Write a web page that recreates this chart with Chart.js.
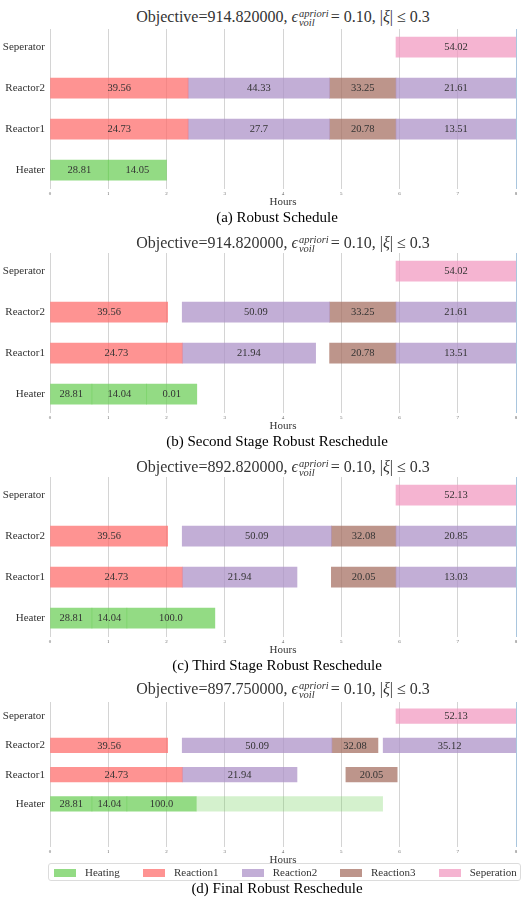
<!DOCTYPE html>
<html>
<head>
<meta charset="utf-8">
<script src="https://cdn.jsdelivr.net/npm/chart.js@4.4.0/dist/chart.umd.min.js"></script>
<style>
html,body{margin:0;padding:0;background:#fff;}
body{width:524px;height:899px;position:relative;overflow:hidden;font-family:"Liberation Serif","DejaVu Serif",serif;}
.ttl{position:absolute;left:50px;width:466px;text-align:center;font-size:16px;color:#333;line-height:20px;height:20px;white-space:nowrap;}
.ss{display:inline-block;vertical-align:middle;font-size:10.5px;line-height:9.5px;font-style:italic;text-align:left;margin-left:1px;margin-right:2px;}
.ss span{display:block;}
.cap{position:absolute;left:0;width:554px;text-align:center;font-size:15px;color:#000;line-height:18px;white-space:nowrap;}
canvas{position:absolute;left:0;}
.legend{position:absolute;left:48px;top:863px;width:473px;height:18px;border:1px solid #dcdcdc;border-radius:3px;background:rgba(255,255,255,0.8);box-sizing:border-box;}
.lg-sw{position:absolute;top:5px;width:22px;height:8px;}
.lg-tx{position:absolute;top:0;line-height:17px;font-size:11px;color:#333;white-space:nowrap;}
</style>
</head>
<body>
<script>
// ---------- data ----------
const units = ['Seperator', 'Reactor2', 'Reactor1', 'Heater'];
const tasks = ['Heating', 'Reaction1', 'Reaction2', 'Reaction3', 'Seperation'];
const objectives = ['914.820000', '914.820000', '892.820000', '897.750000'];
const epsilonApriori = '0.10';
const xiBound = '0.3';
const captions = ['(a) Robust Schedule', '(b) Second Stage Robust Reschedule',
                  '(c) Third Stage Robust Reschedule', '(d) Final Robust Reschedule'];
const hourMin = 0;
const hourMax = 8;
const axisTitle = 'Hours';

// [unit, task, start hour, end hour, label]
const scheduleA = [
  ['Heater', 'Heating', 0, 1.00, '28.81'],
  ['Heater', 'Heating', 1.00, 2.00, '14.05'],
  ['Reactor2', 'Reaction1', 0, 2.37, '39.56'],
  ['Reactor2', 'Reaction2', 2.37, 4.80, '44.33'],
  ['Reactor2', 'Reaction3', 4.80, 5.94, '33.25'],
  ['Reactor2', 'Reaction2', 5.94, 8.00, '21.61'],
  ['Reactor1', 'Reaction1', 0, 2.37, '24.73'],
  ['Reactor1', 'Reaction2', 2.37, 4.80, '27.7'],
  ['Reactor1', 'Reaction3', 4.80, 5.94, '20.78'],
  ['Reactor1', 'Reaction2', 5.94, 8.00, '13.51'],
  ['Seperator', 'Seperation', 5.94, 8.00, '54.02']
];
const scheduleB = [
  ['Heater', 'Heating', 0, 0.72, '28.81'],
  ['Heater', 'Heating', 0.72, 1.66, '14.04'],
  ['Heater', 'Heating', 1.66, 2.52, '0.01'],
  ['Reactor2', 'Reaction1', 0, 2.02, '39.56'],
  ['Reactor2', 'Reaction2', 2.27, 4.80, '50.09'],
  ['Reactor2', 'Reaction3', 4.80, 5.94, '33.25'],
  ['Reactor2', 'Reaction2', 5.94, 8.00, '21.61'],
  ['Reactor1', 'Reaction1', 0, 2.27, '24.73'],
  ['Reactor1', 'Reaction2', 2.27, 4.56, '21.94'],
  ['Reactor1', 'Reaction3', 4.80, 5.94, '20.78'],
  ['Reactor1', 'Reaction2', 5.94, 8.00, '13.51'],
  ['Seperator', 'Seperation', 5.94, 8.00, '54.02']
];
const scheduleC = [
  ['Heater', 'Heating', 0, 0.72, '28.81'],
  ['Heater', 'Heating', 0.72, 1.32, '14.04'],
  ['Heater', 'Heating', 1.32, 2.83, '100.0'],
  ['Reactor2', 'Reaction1', 0, 2.02, '39.56'],
  ['Reactor2', 'Reaction2', 2.27, 4.83, '50.09'],
  ['Reactor2', 'Reaction3', 4.83, 5.94, '32.08'],
  ['Reactor2', 'Reaction2', 5.94, 8.00, '20.85'],
  ['Reactor1', 'Reaction1', 0, 2.27, '24.73'],
  ['Reactor1', 'Reaction2', 2.27, 4.24, '21.94'],
  ['Reactor1', 'Reaction3', 4.83, 5.94, '20.05'],
  ['Reactor1', 'Reaction2', 5.94, 8.00, '13.03'],
  ['Seperator', 'Seperation', 5.94, 8.00, '52.13']
];
const scheduleD = [
  ['Heater', 'Heating', 0, 0.72, '28.81'],
  ['Heater', 'Heating', 0.72, 1.32, '14.04'],
  ['Heater', 'Heating', 1.32, 2.51, '100.0'],
  ['Reactor2', 'Reaction1', 0, 2.02, '39.56'],
  ['Reactor2', 'Reaction2', 2.27, 4.84, '50.09'],
  ['Reactor2', 'Reaction3', 4.84, 5.63, '32.08'],
  ['Reactor2', 'Reaction2', 5.72, 8.00, '35.12'],
  ['Reactor1', 'Reaction1', 0, 2.27, '24.73'],
  ['Reactor1', 'Reaction2', 2.27, 4.24, '21.94'],
  ['Reactor1', 'Reaction3', 5.08, 5.96, '20.05'],
  ['Seperator', 'Seperation', 5.94, 8.00, '52.13']
];
// remaining (not yet executed) heating window in the final reschedule
const finalPending = [
  ['Heater', 'Heating', 2.51, 5.71]
];

// ---------- styles ----------
const taskColors = {
  Heating: 'rgba(111,207,91,0.75)',
  Reaction1: 'rgba(254,111,110,0.75)',
  Reaction2: 'rgba(174,147,200,0.75)',
  Reaction3: 'rgba(167,114,100,0.75)',
  Seperation: 'rgba(242,155,194,0.75)'
};
const pendingColor = 'rgba(111,207,91,0.3)';
const FONT = '"Liberation Serif", "DejaVu Serif", serif';
Chart.defaults.font.family = FONT;
Chart.defaults.animation = false;

const layoutPanels = [
  {sched: scheduleA, pending: [], titleTop: 7, canvasTop: 24, padTop: 5, plotH: 160, capTop: 208, yMin: -0.44, yMax: 3.46, barPx: 20},
  {sched: scheduleB, pending: [], titleTop: 233, canvasTop: 248, padTop: 5, plotH: 160, capTop: 432, yMin: -0.44, yMax: 3.46, barPx: 20},
  {sched: scheduleC, pending: [], titleTop: 457, canvasTop: 472, padTop: 5, plotH: 160, capTop: 656, yMin: -0.44, yMax: 3.46, barPx: 20},
  {sched: scheduleD, pending: finalPending, titleTop: 679, canvasTop: 696, padTop: 6, plotH: 145, capTop: 879, yMin: -0.48, yMax: 4.47, barPx: 14.5}
];

const barText = {
  id: 'barText',
  afterDatasetsDraw(chart) {
    const ctx = chart.ctx;
    ctx.save();
    ctx.font = '10.5px ' + FONT;
    ctx.fillStyle = '#333';
    ctx.textAlign = 'center';
    ctx.textBaseline = 'middle';
    chart.data.datasets.forEach((ds, di) => {
      const meta = chart.getDatasetMeta(di);
      meta.data.forEach((el, i) => {
        const t = ds.data[i].text;
        if (!t) return;
        ctx.fillText(t, (el.x + el.base) / 2, el.y + 0.5);
      });
    });
    ctx.restore();
  }
};

function toPoints(rows) {
  return rows.map(r => ({x: [r[2], r[3]], y: units.indexOf(r[0]), text: r[4] || ''}));
}

layoutPanels.forEach((p, idx) => {
  // title
  const t = document.createElement('div');
  t.className = 'ttl';
  t.style.top = p.titleTop + 'px';
  t.innerHTML = 'Objective=' + objectives[idx] + ', <span style="font-style:italic">ϵ</span>' +
    '<span class="ss"><span>apriori</span><span>voil</span></span>= ' + epsilonApriori +
    ', |<span style="font-style:italic">ξ</span>| ≤ ' + xiBound;
  document.body.appendChild(t);

  // chart
  const xAxisH = 20;
  const padBottom = 1;
  const cv = document.createElement('canvas');
  cv.width = 524;
  cv.height = p.padTop + p.plotH + xAxisH + padBottom;
  cv.style.top = p.canvasTop + 'px';
  document.body.appendChild(cv);

  const datasets = tasks.map(task => ({
    label: task,
    data: toPoints(p.sched.filter(r => r[1] === task)),
    backgroundColor: taskColors[task],
    borderWidth: 0,
    grouped: false,
    barThickness: p.barPx
  }));
  if (p.pending.length) {
    datasets.unshift({
      label: 'Heating (remaining)',
      data: toPoints(p.pending),
      backgroundColor: pendingColor,
      borderWidth: 0,
      grouped: false,
      barThickness: p.barPx
    });
  }

  new Chart(cv, {
    type: 'bar',
    data: {datasets},
    options: {
      responsive: false,
      indexAxis: 'y',
      animation: false,
      layout: {padding: {top: p.padTop, bottom: padBottom, left: 0, right: 8}},
      plugins: {legend: {display: false}, tooltip: {enabled: false}},
      scales: {
        x: {
          type: 'linear', min: hourMin, max: hourMax,
          offset: false,
          border: {display: false},
          grid: {
            offset: false,
            drawTicks: false,
            lineWidth: 1,
            color: c => (c.tick && c.tick.value === hourMax) ? '#a9c6de' : '#d4d4d4'
          },
          ticks: {stepSize: 1, padding: 2, color: '#666', font: {size: 5}},
          title: {display: true, text: axisTitle, color: '#333', font: {size: 11}, padding: {top: 0, bottom: 0}},
          afterFit: s => { s.height = xAxisH; s.paddingLeft = 0; s.paddingRight = 2; }
        },
        y: {
          type: 'linear', reverse: true, min: p.yMin, max: p.yMax,
          offset: false,
          border: {display: false},
          grid: {display: false, drawTicks: false, offset: false},
          afterBuildTicks: s => { s.ticks = units.map((u, i) => ({value: i})); },
          ticks: {callback: v => units[v], padding: 5, color: '#333', font: {size: 11}},
          afterFit: s => { s.width = 50; s.paddingTop = 0; s.paddingBottom = 0; }
        }
      }
    },
    plugins: [barText]
  });

  // caption
  const c = document.createElement('div');
  c.className = 'cap';
  c.style.top = p.capTop + 'px';
  c.textContent = captions[idx];
  document.body.appendChild(c);
});

// legend (final panel)
const legend = document.createElement('div');
legend.className = 'legend';
const legendX = [5, 94, 192.7, 291, 389.7];
tasks.forEach((task, i) => {
  const sw = document.createElement('span');
  sw.className = 'lg-sw';
  sw.style.left = legendX[i] + 'px';
  sw.style.background = taskColors[task];
  legend.appendChild(sw);
  const tx = document.createElement('span');
  tx.className = 'lg-tx';
  tx.style.left = (legendX[i] + 31) + 'px';
  tx.textContent = task;
  legend.appendChild(tx);
});
document.body.appendChild(legend);
</script>
</body>
</html>
